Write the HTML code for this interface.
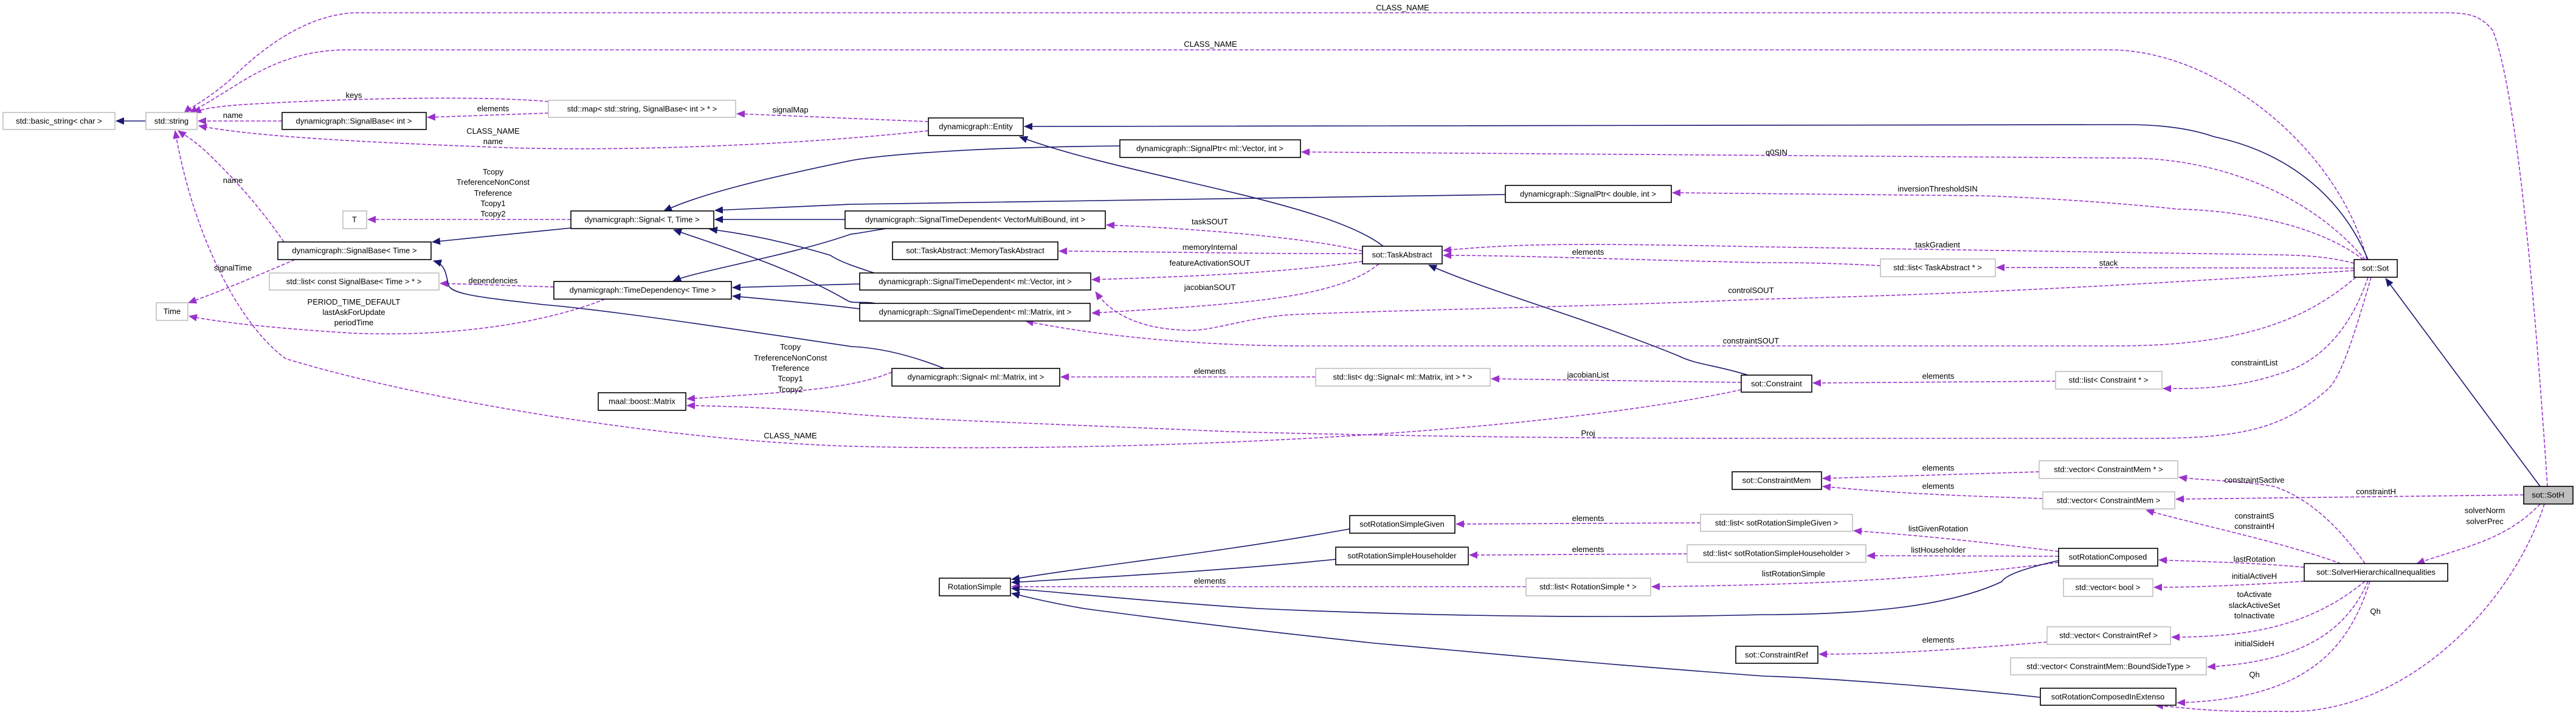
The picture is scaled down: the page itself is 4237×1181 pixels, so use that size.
<!DOCTYPE html>
<html><head><meta charset="utf-8"><style>
html,body{margin:0;padding:0;background:#fff;}
svg{display:block;font-family:"Liberation Sans",sans-serif;}
.b{fill:#fff;stroke:#000;stroke-width:1.6}
.g{fill:#fff;stroke:#bfbfbf;stroke-width:1.6}
.s{fill:none;stroke:#191970;stroke-width:1.6;marker-end:url(#ms)}
.d{fill:none;stroke:#9a32cd;stroke-width:1.6;stroke-dasharray:6,3;marker-end:url(#md)}
text{font-size:13px;fill:#000}
.n{text-anchor:middle;dominant-baseline:central}
.l{text-anchor:middle}
</style></head><body>
<svg width="4237" height="1181" viewBox="0 0 4237 1181" xmlns="http://www.w3.org/2000/svg">
<defs>
<marker id="ms" markerWidth="14" markerHeight="12" refX="13" refY="6" orient="auto" markerUnits="userSpaceOnUse"><path d="M0,0 L14,6 L0,12 z" fill="#191970"/></marker>
<marker id="md" markerWidth="14" markerHeight="12" refX="13" refY="6" orient="auto" markerUnits="userSpaceOnUse"><path d="M0,0 L14,6 L0,12 z" fill="#9a32cd"/></marker>
</defs>

<!-- edges -->
<path class="s" d="M240,199 L191,199"/>
<path class="d" d="M464,199 L326,199"/>
<path class="d" d="M902,186 L703,193"/>
<path class="d" d="M902,167 C800,158 600,160 400,172 C345,176 330,180 318,186"/>
<path class="d" d="M1527,200 L1212,187"/>
<path class="d" d="M1527,215 C1300,240 1000,250 811,242 C600,234 420,225 327,207"/>
<path class="d" d="M4190,800 C4170,500 4140,150 4100,50 C4080,25 4060,21 4020,21 L590,21 C500,21 420,90 380,130 C340,165 315,175 303,186"/>
<path class="d" d="M3893,427 C3850,250 3650,82 3470,82 L570,82 C480,82 420,120 380,145 C340,170 322,180 312,186"/>
<path class="d" d="M467,398 C420,330 380,290 350,260 C320,230 300,220 293,215"/>
<path class="d" d="M2864,641 C2500,720 1800,745 1400,734 C1100,725 700,660 470,590 C400,540 320,400 288,215"/>
<path class="d" d="M939,361 L605,361"/>
<path class="s" d="M939,375 L711,398"/>
<path class="d" d="M485,427 C420,455 360,480 310,498"/>
<path class="d" d="M911,472 L724,466"/>
<path class="d" d="M995,492 C900,530 750,555 580,548 C450,540 360,530 311,520"/>
<path class="s" d="M1553,606 C1500,585 1450,572 1400,570 C1200,540 1000,510 893,501 C800,490 745,485 738,470 C733,450 733,435 713,429"/>
<path class="s" d="M1842,240 C1600,242 1450,255 1400,264 C1250,295 1150,320 1092,347"/>
<path class="s" d="M2476,320 L1400,336 L1176,346"/>
<path class="s" d="M1390,361 L1176,361"/>
<path class="s" d="M1438,449 C1410,440 1380,430 1366,420 C1300,400 1230,385 1167,377"/>
<path class="s" d="M1440,499 C1420,495 1405,500 1395,495 C1300,440 1200,410 1108,378"/>
<path class="s" d="M1457,376 C1420,382 1405,385 1400,385 C1300,420 1150,445 1107,462"/>
<path class="s" d="M1414,467 L1205,473"/>
<path class="s" d="M1414,508 C1350,500 1260,492 1205,487"/>
<path class="s" d="M2275,405 C2180,330 1850,290 1677,225"/>
<path class="s" d="M3895,427 C3850,320 3760,250 3642,225 C3600,210 3550,205 3497,205 L1685,208"/>
<path class="s" d="M4178,800 L3924,458"/>
<path class="d" d="M2241,413 C2150,390 1950,375 1820,370"/>
<path class="d" d="M2241,417 C2100,418 1900,414 1742,413"/>
<path class="d" d="M2241,430 C2100,450 1950,455 1796,460"/>
<path class="d" d="M2268,434 C2200,490 2050,500 1796,515"/>
<path class="d" d="M3890,427 C3800,320 3650,260 3500,260 L2141,250"/>
<path class="d" d="M3887,427 C3800,360 3650,345 3582,344 C3450,330 3300,323 3258,322 L2751,317"/>
<path class="d" d="M3872,433 C3820,420 3780,420 3740,419 L2900,406 C2600,400 2500,400 2374,412"/>
<path class="d" d="M3872,441 L3284,440"/>
<path class="d" d="M3093,437 C3000,432 2950,432 2900,432 C2700,428 2500,420 2374,420"/>
<path class="d" d="M3872,445 C3500,470 3200,485 2900,492 C2600,505 2300,510 2137,517 C2050,520 1990,548 1945,543 C1880,540 1830,520 1802,480"/>
<path class="d" d="M3875,456 C3800,520 3700,569 3480,569 L2146,569 C1950,569 1780,548 1687,528"/>
<path class="d" d="M3895,456 C3860,560 3800,600 3752,614 C3680,638 3620,640 3558,639"/>
<path class="d" d="M3900,456 C3870,560 3850,620 3829,640 C3760,700 3700,721 3539,721 L2900,721 C2700,721 2400,720 2022,710 C1800,700 1500,690 1400,681 C1300,672 1200,668 1130,667"/>
<path class="d" d="M1467,612 C1400,640 1300,645 1130,656"/>
<path class="d" d="M2164,620 L1745,620"/>
<path class="d" d="M2864,629 L2453,623"/>
<path class="s" d="M2875,617 C2820,600 2790,600 2760,585 C2600,520 2450,480 2350,436"/>
<path class="d" d="M3381,627 L2982,630"/>
<path class="d" d="M3354,776 L2998,787"/>
<path class="d" d="M3360,820 C3200,815 3100,810 2998,800"/>
<path class="d" d="M3890,927 C3850,870 3800,820 3740,800 C3680,790 3620,790 3584,785"/>
<path class="d" d="M4151,814 L3579,821"/>
<path class="d" d="M3850,927 C3750,890 3600,860 3530,839"/>
<path class="d" d="M4178,829 C4120,890 4050,900 3975,927"/>
<path class="d" d="M3790,933 C3700,925 3650,925 3551,921"/>
<path class="d" d="M3790,956 C3700,962 3620,966 3543,966"/>
<path class="d" d="M3890,956 C3800,1030 3700,1048 3572,1048"/>
<path class="d" d="M3367,1056 C3200,1070 3100,1076 2992,1076"/>
<path class="d" d="M3895,956 C3850,1060 3750,1090 3631,1097"/>
<path class="d" d="M3898,956 C3860,1080 3780,1150 3581,1156"/>
<path class="d" d="M4185,829 C4130,1000 3950,1180 3750,1170 C3650,1172 3600,1165 3545,1160"/>
<path class="d" d="M3386,907 C3250,890 3150,880 3049,873"/>
<path class="d" d="M3386,915 L3071,914"/>
<path class="d" d="M3386,925 C3200,950 3000,962 2717,965"/>
<path class="d" d="M2797,860 L2395,862"/>
<path class="d" d="M2775,911 L2417,913"/>
<path class="d" d="M2510,965 L1664,965"/>
<path class="s" d="M2220,870 C2000,910 1800,930 1664,953"/>
<path class="s" d="M2197,920 C2000,940 1800,950 1664,958"/>
<path class="s" d="M3386,922 C3330,935 3300,945 3292,957 C3200,1000 3050,1011 2900,1011 C2700,1016 2400,1016 2070,1001 C1900,990 1750,975 1664,968"/>
<path class="s" d="M3356,1147 C3200,1130 3000,1115 2900,1112 C2600,1090 2400,1070 2261,1058 C2000,1030 1850,1010 1783,1001 C1720,990 1690,982 1664,976"/>

<!-- edge labels -->
<text class="l" x="383" y="194">name</text>
<text class="l" x="811" y="183">elements</text>
<text class="l" x="582" y="161">keys</text>
<text class="l" x="1300" y="185">signalMap</text>
<text class="l" x="811" y="220">CLASS_NAME</text>
<text class="l" x="811" y="237">name</text>
<text class="l" x="2307" y="17">CLASS_NAME</text>
<text class="l" x="1991" y="77">CLASS_NAME</text>
<text class="l" x="383" y="301">name</text>
<text class="l" x="1300" y="721">CLASS_NAME</text>
<text class="l" x="811" y="287">Tcopy</text>
<text class="l" x="811" y="304">TreferenceNonConst</text>
<text class="l" x="811" y="322">Treference</text>
<text class="l" x="811" y="339">Tcopy1</text>
<text class="l" x="811" y="356">Tcopy2</text>
<text class="l" x="383" y="445">signalTime</text>
<text class="l" x="811" y="466">dependencies</text>
<text class="l" x="582" y="501">PERIOD_TIME_DEFAULT</text>
<text class="l" x="582" y="518">lastAskForUpdate</text>
<text class="l" x="582" y="535">periodTime</text>
<text class="l" x="1300" y="575">Tcopy</text>
<text class="l" x="1300" y="593">TreferenceNonConst</text>
<text class="l" x="1300" y="610">Treference</text>
<text class="l" x="1300" y="627">Tcopy1</text>
<text class="l" x="1300" y="645">Tcopy2</text>
<text class="l" x="1990" y="369">taskSOUT</text>
<text class="l" x="1990" y="411">memoryInternal</text>
<text class="l" x="1990" y="437">featureActivationSOUT</text>
<text class="l" x="1990" y="477">jacobianSOUT</text>
<text class="l" x="2922" y="255">q0SIN</text>
<text class="l" x="3187" y="315">inversionThresholdSIN</text>
<text class="l" x="3187" y="407">taskGradient</text>
<text class="l" x="3468" y="437">stack</text>
<text class="l" x="2612" y="419">elements</text>
<text class="l" x="2880" y="482">controlSOUT</text>
<text class="l" x="2880" y="565">constraintSOUT</text>
<text class="l" x="3708" y="601">constraintList</text>
<text class="l" x="2612" y="717">Proj</text>
<text class="l" x="1990" y="615">elements</text>
<text class="l" x="2612" y="621">jacobianList</text>
<text class="l" x="3188" y="623">elements</text>
<text class="l" x="3188" y="774">elements</text>
<text class="l" x="3188" y="804">elements</text>
<text class="l" x="3708" y="794">constraintSactive</text>
<text class="l" x="3908" y="813">constraintH</text>
<text class="l" x="3708" y="853">constraintS</text>
<text class="l" x="3708" y="870">constraintH</text>
<text class="l" x="4087" y="844">solverNorm</text>
<text class="l" x="4087" y="862">solverPrec</text>
<text class="l" x="3708" y="924">lastRotation</text>
<text class="l" x="3708" y="952">initialActiveH</text>
<text class="l" x="3708" y="982">toActivate</text>
<text class="l" x="3708" y="1000">slackActiveSet</text>
<text class="l" x="3708" y="1017">toInactivate</text>
<text class="l" x="3188" y="1057">elements</text>
<text class="l" x="3708" y="1063">initialSideH</text>
<text class="l" x="3708" y="1114">Qh</text>
<text class="l" x="3907" y="1010">Qh</text>
<text class="l" x="3188" y="874">listGivenRotation</text>
<text class="l" x="3188" y="909">listHouseholder</text>
<text class="l" x="2950" y="948">listRotationSimple</text>
<text class="l" x="2612" y="857">elements</text>
<text class="l" x="2612" y="908">elements</text>
<text class="l" x="1990" y="960">elements</text>

<!-- nodes -->
<g>
<rect class="g" x="5" y="185" width="184" height="28"/><text class="n" x="97" y="199">std::basic_string&lt; char &gt;</text>
<rect class="g" x="240" y="185" width="84" height="28"/><text class="n" x="282" y="199">std::string</text>
<rect class="b" x="464" y="185" width="237" height="28"/><text class="n" x="582" y="199">dynamicgraph::SignalBase&lt; int &gt;</text>
<rect class="g" x="902" y="165" width="308" height="28"/><text class="n" x="1056" y="179">std::map&lt; std::string, SignalBase&lt; int &gt; * &gt;</text>
<rect class="b" x="1527" y="194" width="156" height="29"/><text class="n" x="1605" y="208">dynamicgraph::Entity</text>
<rect class="g" x="564" y="347" width="39" height="29"/><text class="n" x="583" y="361">T</text>
<rect class="b" x="939" y="347" width="235" height="29"/><text class="n" x="1056" y="361">dynamicgraph::Signal&lt; T, Time &gt;</text>
<rect class="b" x="457" y="398" width="252" height="29"/><text class="n" x="583" y="412">dynamicgraph::SignalBase&lt; Time &gt;</text>
<rect class="g" x="443" y="449" width="279" height="28"/><text class="n" x="582" y="463">std::list&lt; const SignalBase&lt; Time &gt; * &gt;</text>
<rect class="b" x="911" y="463" width="292" height="29"/><text class="n" x="1057" y="477">dynamicgraph::TimeDependency&lt; Time &gt;</text>
<rect class="g" x="257" y="498" width="52" height="29"/><text class="n" x="283" y="512">Time</text>
<rect class="b" x="984" y="646" width="144" height="29"/><text class="n" x="1056" y="660">maal::boost::Matrix</text>
<rect class="b" x="1842" y="230" width="297" height="29"/><text class="n" x="1990" y="244">dynamicgraph::SignalPtr&lt; ml::Vector, int &gt;</text>
<rect class="b" x="2476" y="305" width="273" height="28"/><text class="n" x="2612" y="319">dynamicgraph::SignalPtr&lt; double, int &gt;</text>
<rect class="b" x="1390" y="347" width="428" height="29"/><text class="n" x="1604" y="361">dynamicgraph::SignalTimeDependent&lt; VectorMultiBound, int &gt;</text>
<rect class="b" x="1468" y="398" width="272" height="29"/><text class="n" x="1604" y="412">sot::TaskAbstract::MemoryTaskAbstract</text>
<rect class="b" x="1414" y="449" width="380" height="28"/><text class="n" x="1604" y="463">dynamicgraph::SignalTimeDependent&lt; ml::Vector, int &gt;</text>
<rect class="b" x="1414" y="499" width="379" height="29"/><text class="n" x="1604" y="513">dynamicgraph::SignalTimeDependent&lt; ml::Matrix, int &gt;</text>
<rect class="b" x="2241" y="405" width="131" height="29"/><text class="n" x="2306" y="419">sot::TaskAbstract</text>
<rect class="g" x="3093" y="426" width="189" height="29"/><text class="n" x="3187" y="440">std::list&lt; TaskAbstract * &gt;</text>
<rect class="b" x="3872" y="427" width="71" height="29"/><text class="n" x="3907" y="441">sot::Sot</text>
<rect class="b" x="1467" y="606" width="276" height="29"/><text class="n" x="1605" y="620">dynamicgraph::Signal&lt; ml::Matrix, int &gt;</text>
<rect class="g" x="2164" y="606" width="287" height="29"/><text class="n" x="2307" y="620">std::list&lt; dg::Signal&lt; ml::Matrix, int &gt; * &gt;</text>
<rect class="b" x="2864" y="617" width="116" height="28"/><text class="n" x="2922" y="631">sot::Constraint</text>
<rect class="g" x="3381" y="611" width="175" height="29"/><text class="n" x="3468" y="625">std::list&lt; Constraint * &gt;</text>
<rect class="b" x="2849" y="776" width="147" height="29"/><text class="n" x="2922" y="790">sot::ConstraintMem</text>
<rect class="g" x="3354" y="758" width="228" height="29"/><text class="n" x="3468" y="772">std::vector&lt; ConstraintMem * &gt;</text>
<rect class="g" x="3360" y="809" width="217" height="28"/><text class="n" x="3468" y="823">std::vector&lt; ConstraintMem &gt;</text>
<rect class="b" x="4151" y="800" width="81" height="29" style="fill:#bfbfbf"/><text class="n" x="4191" y="814">sot::SotH</text>
<rect class="b" x="2220" y="848" width="173" height="29"/><text class="n" x="2306" y="862">sotRotationSimpleGiven</text>
<rect class="b" x="2197" y="900" width="218" height="29"/><text class="n" x="2306" y="914">sotRotationSimpleHouseholder</text>
<rect class="b" x="1545" y="951" width="117" height="29"/><text class="n" x="1603" y="965">RotationSimple</text>
<rect class="g" x="2510" y="951" width="205" height="29"/><text class="n" x="2612" y="965">std::list&lt; RotationSimple * &gt;</text>
<rect class="g" x="2797" y="846" width="250" height="28"/><text class="n" x="2922" y="860">std::list&lt; sotRotationSimpleGiven &gt;</text>
<rect class="g" x="2775" y="896" width="294" height="29"/><text class="n" x="2922" y="910">std::list&lt; sotRotationSimpleHouseholder &gt;</text>
<rect class="b" x="3386" y="902" width="163" height="29"/><text class="n" x="3467" y="916">sotRotationComposed</text>
<rect class="g" x="3394" y="952" width="147" height="29"/><text class="n" x="3467" y="966">std::vector&lt; bool &gt;</text>
<rect class="b" x="3790" y="927" width="236" height="29"/><text class="n" x="3908" y="941">sot::SolverHierarchicalInequalities</text>
<rect class="b" x="2855" y="1063" width="135" height="28"/><text class="n" x="2922" y="1077">sot::ConstraintRef</text>
<rect class="g" x="3367" y="1031" width="203" height="29"/><text class="n" x="3468" y="1045">std::vector&lt; ConstraintRef &gt;</text>
<rect class="g" x="3307" y="1082" width="322" height="28"/><text class="n" x="3468" y="1096">std::vector&lt; ConstraintMem::BoundSideType &gt;</text>
<rect class="b" x="3356" y="1132" width="223" height="28"/><text class="n" x="3467" y="1146">sotRotationComposedInExtenso</text>
</g>
</svg>
</body></html>
